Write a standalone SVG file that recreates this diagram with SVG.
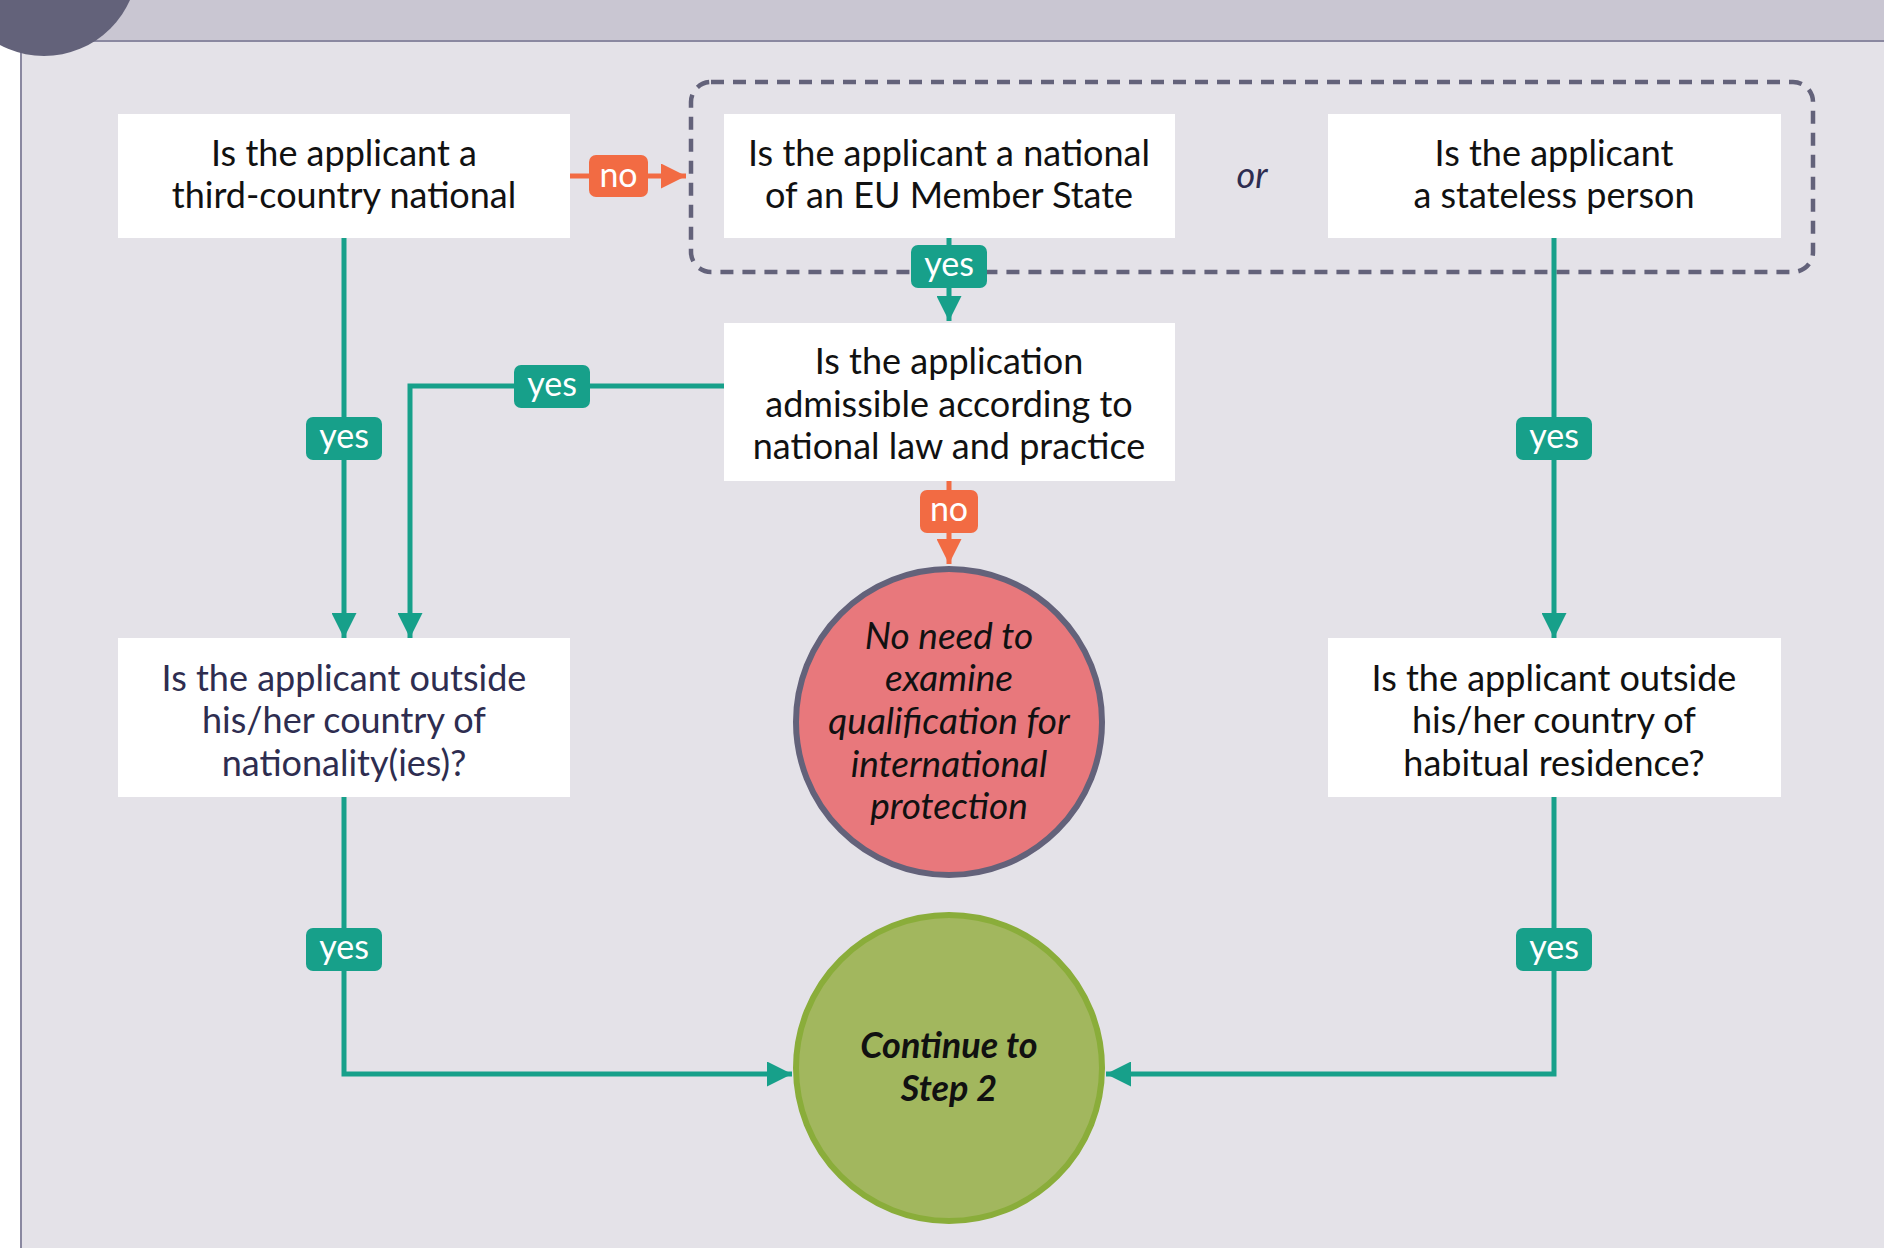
<svg xmlns="http://www.w3.org/2000/svg" width="1884" height="1248" viewBox="0 0 1884 1248">
<defs>
<style>
.box{fill:#ffffff}
.t{font-family:Lato,"Open Sans",sans-serif;font-size:36px;fill:#111111;text-anchor:middle}
.c{font-size:37px}
.navy{fill:#2e2d50}
.lbl{font-family:Lato,"Open Sans",sans-serif;font-size:34px;fill:#ffffff;text-anchor:middle}
.ln{fill:none;stroke:#17a08a;stroke-width:5}
.lno{fill:none;stroke:#f26b43;stroke-width:5}
.yes{fill:#17a08a}
.no{fill:#f26b43}
</style>
<marker id="ah" viewBox="0 0 10 10" refX="10" refY="5" markerWidth="5" markerHeight="5" markerUnits="strokeWidth" orient="auto"><path d="M0,0 L10,5 L0,10 z" fill="#17a08a"/></marker>
<marker id="aho" viewBox="0 0 10 10" refX="10" refY="5" markerWidth="5" markerHeight="5" markerUnits="strokeWidth" orient="auto"><path d="M0,0 L10,5 L0,10 z" fill="#f26b43"/></marker>
</defs>
<rect x="0" y="0" width="1884" height="1248" fill="#ffffff"/>
<rect x="21" y="41" width="1863" height="1207" fill="#e4e2e8"/>
<rect x="0" y="0" width="1884" height="41" fill="#c9c6d2"/>
<line x1="21" y1="41" x2="1884" y2="41" stroke="#8a88a0" stroke-width="2"/>
<line x1="21" y1="41" x2="21" y2="1248" stroke="#8a88a0" stroke-width="2"/>
<circle cx="44" cy="-38" r="94" fill="#63627a"/>

<rect id="group-frame" x="691" y="82" width="1122" height="190" rx="20" fill="none" stroke="#63627a" stroke-width="4.5" stroke-dasharray="13 9"/>

<g id="connectors">
<path class="lno" d="M570,176 L686,176" marker-end="url(#aho)"/>
<path class="ln" d="M344,238 L344,638" marker-end="url(#ah)"/>
<path class="ln" d="M724,386 L410,386 L410,638" marker-end="url(#ah)"/>
<path class="ln" d="M949,238 L949,321" marker-end="url(#ah)"/>
<path class="ln" d="M1554,238 L1554,638" marker-end="url(#ah)"/>
<path class="lno" d="M949,481 L949,564" marker-end="url(#aho)"/>
<path class="ln" d="M344,797 L344,1074 L792,1074" marker-end="url(#ah)"/>
<path class="ln" d="M1554,797 L1554,1074 L1106,1074" marker-end="url(#ah)"/>
<g id="lbl-no1"><rect class="no" x="589" y="155" width="59" height="42" rx="7"/><text class="lbl" x="618.5" y="187">no</text></g>
<g id="lbl-yes1"><rect class="yes" x="306" y="417" width="76" height="43" rx="7"/><text class="lbl" x="344" y="448">yes</text></g>
<g id="lbl-yes2"><rect class="yes" x="514" y="365" width="76" height="43" rx="7"/><text class="lbl" x="552" y="396">yes</text></g>
<g id="lbl-yes3"><rect class="yes" x="911" y="245" width="76" height="43" rx="7"/><text class="lbl" x="949" y="276">yes</text></g>
<g id="lbl-yes4"><rect class="yes" x="1516" y="417" width="76" height="43" rx="7"/><text class="lbl" x="1554" y="448">yes</text></g>
<g id="lbl-no2"><rect class="no" x="920" y="490" width="58" height="43" rx="7"/><text class="lbl" x="949" y="521">no</text></g>
<g id="lbl-yes5"><rect class="yes" x="306" y="928" width="76" height="43" rx="7"/><text class="lbl" x="344" y="959">yes</text></g>
<g id="lbl-yes6"><rect class="yes" x="1516" y="928" width="76" height="43" rx="7"/><text class="lbl" x="1554" y="959">yes</text></g>
</g>

<g id="n-third-country">
<rect class="box" x="118" y="114" width="452" height="124"/>
<text class="t" x="344" y="166">Is the applicant a</text>
<text class="t" x="344" y="208">third-country national</text>
</g>
<g id="n-eu-national">
<rect class="box" x="724" y="114" width="451" height="124"/>
<text class="t" x="949" y="166">Is the applicant a national</text>
<text class="t" x="949" y="208">of an EU Member State</text>
</g>
<text id="or" class="t navy" x="1252" y="188" font-style="italic">or</text>
<g id="n-stateless">
<rect class="box" x="1328" y="114" width="453" height="124"/>
<text class="t" x="1554" y="166">Is the applicant</text>
<text class="t" x="1554" y="208">a stateless person</text>
</g>
<g id="n-admissible">
<rect class="box" x="724" y="323" width="451" height="158"/>
<text class="t" x="949" y="374">Is the application</text>
<text class="t" x="949" y="417">admissible according to</text>
<text class="t" x="949" y="459">national law and practice</text>
</g>
<g id="n-outside-nationality">
<rect class="box" x="118" y="638" width="452" height="159"/>
<text class="t navy" x="344" y="691">Is the applicant outside</text>
<text class="t navy" x="344" y="733">his/her country of</text>
<text class="t navy" x="344" y="776">nationality(ies)?</text>
</g>
<g id="n-outside-residence">
<rect class="box" x="1328" y="638" width="453" height="159"/>
<text class="t" x="1554" y="691">Is the applicant outside</text>
<text class="t" x="1554" y="733">his/her country of</text>
<text class="t" x="1554" y="776">habitual residence?</text>
</g>
<g id="n-no-need">
<circle cx="949" cy="722" r="153" fill="#e8787c" stroke="#63627a" stroke-width="6"/>
<text class="t c" x="949" y="649" font-style="italic">No need to</text>
<text class="t c" x="949" y="691" font-style="italic">examine</text>
<text class="t c" x="949" y="734" font-style="italic">qualification for</text>
<text class="t c" x="949" y="777" font-style="italic">international</text>
<text class="t c" x="949" y="819" font-style="italic">protection</text>
</g>
<g id="n-continue">
<circle cx="949" cy="1068" r="153" fill="#a2b75e" stroke="#8aad3a" stroke-width="6"/>
<text class="t" x="949" y="1058" font-style="italic" font-weight="bold">Continue to</text>
<text class="t" x="949" y="1101" font-style="italic" font-weight="bold">Step 2</text>
</g>
</svg>
